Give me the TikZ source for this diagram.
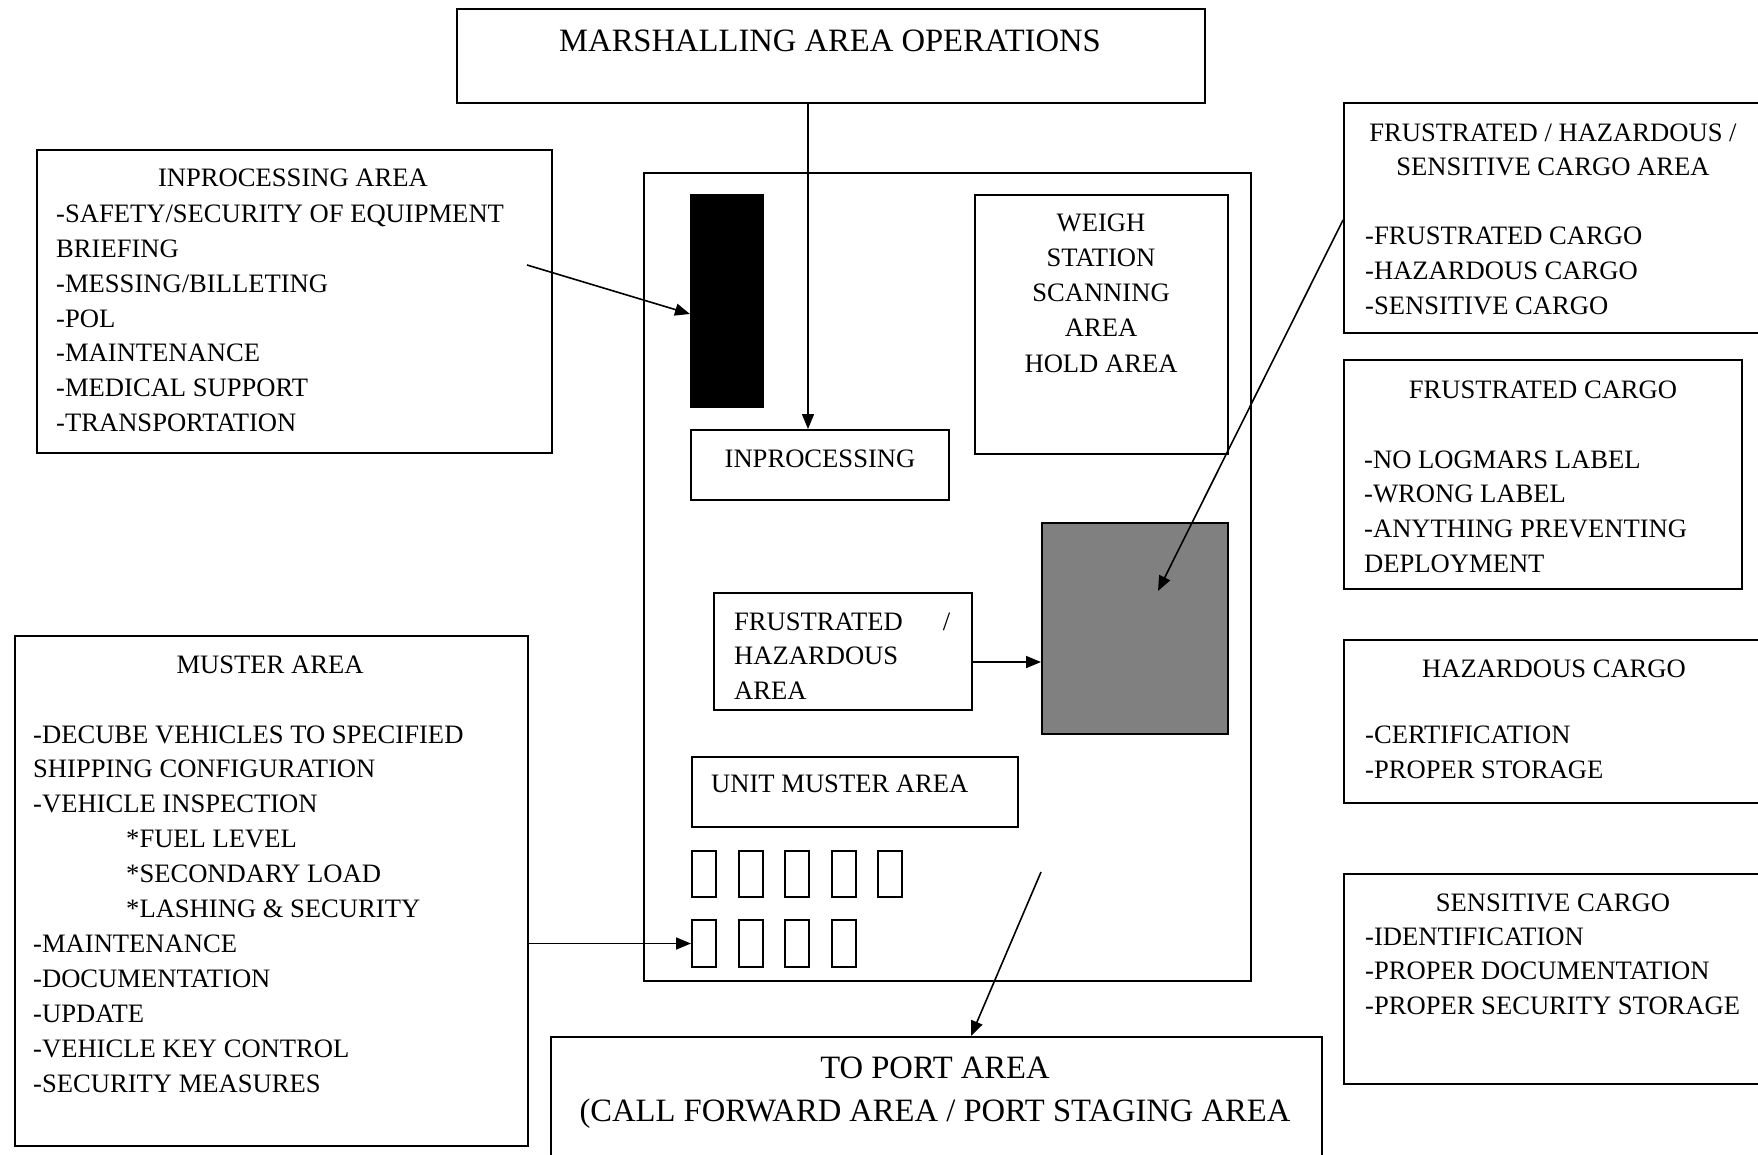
\documentclass[tikz,border=0pt]{standalone}
\usepackage{fontspec}
\setmainfont{Liberation Serif}
\usetikzlibrary{arrows.meta}
\begin{document}
\begin{tikzpicture}[x=1pt,y=-1pt,
  area/.style={draw, line width=2pt, inner sep=0pt, anchor=north west},
  body/.style={font=\fontsize{26.6}{32}\selectfont, inner sep=0pt},
  big/.style={font=\fontsize{32.6}{40}\selectfont, inner sep=0pt},
  arr/.style={line width=1.6pt, -{Triangle[length=15pt,width=12pt]}},
]
\useasboundingbox (0,0) rectangle (1758,1155);
\clip (0,0) rectangle (1758,1155);

% ---- boxes ----
\node[area, minimum width=748pt, minimum height=94pt] (title) at (456,8) {};
\node[area, minimum width=515pt, minimum height=303pt] (ipa) at (36,149) {};
\node[area, minimum width=607pt, minimum height=808pt] (yard) at (643,172) {};
\node[area, fill=black, minimum width=72pt, minimum height=212pt] (block) at (690,194) {};
\node[area, minimum width=258pt, minimum height=70pt] (ipbox) at (690,429) {};
\node[area, minimum width=253pt, minimum height=259pt] (weigh) at (974,194) {};
\node[area, fill={rgb,255:red,128;green,128;blue,128}, minimum width=186pt, minimum height=211pt] (holdpad) at (1041,522) {};
\node[area, minimum width=258pt, minimum height=117pt] (fhbox) at (713,592) {};
\node[area, minimum width=326pt, minimum height=70pt] (umbox) at (691,756) {};
\foreach \i in {1,...,5}
  \node[area, minimum width=24pt, minimum height=46pt] (sa\i) at ({691+46.5*(\i-1)},850) {};
\foreach \i in {1,...,4}
  \node[area, minimum width=24pt, minimum height=47pt] (sb\i) at ({691+46.5*(\i-1)},919) {};
\node[area, minimum width=513pt, minimum height=510pt] (muster) at (14,635) {};
\node[area, minimum width=771pt, minimum height=160pt] (port) at (550,1036) {};
\node[area, minimum width=421pt, minimum height=230pt] (fhs) at (1343,102) {};
\node[area, minimum width=398pt, minimum height=229pt] (fcargo) at (1343,359) {};
\node[area, minimum width=421pt, minimum height=163pt] (hcargo) at (1343,639) {};
\node[area, minimum width=421pt, minimum height=210pt] (scargo) at (1343,873) {};

% ---- texts ----
\node[big, anchor=base] (title-t) at (830,52) {MARSHALLING AREA OPERATIONS};

\node[body, anchor=base] (ipa-h) at (293,187) {INPROCESSING AREA};
\foreach \t [count=\i] in {-SAFETY/SECURITY OF EQUIPMENT, BRIEFING, -MESSING/BILLETING,
    -POL, -MAINTENANCE, -MEDICAL SUPPORT, -TRANSPORTATION}
  \node[body, anchor=base west] (ipa-l\i) at (56,{223+34.7*(\i-1)}) {\t};

\foreach \t [count=\i] in {WEIGH, STATION, SCANNING, AREA, HOLD AREA}
  \node[body, anchor=base] (weigh-l\i) at (1101,{232+35*(\i-1)}) {\t};

\node[body, anchor=base] (ipbox-t) at (820,467) {INPROCESSING};

\node[body, anchor=base west] (fh-l1) at (734,630) {\hbox to 216pt{FRUSTRATED\hfill/}};
\node[body, anchor=base west] (fh-l2) at (734,664) {HAZARDOUS};
\node[body, anchor=base west] (fh-l3) at (734,699) {AREA};

\node[body, anchor=base west] (um-t) at (711,792) {UNIT MUSTER AREA};

\node[body, anchor=base] (muster-h) at (270,673) {MUSTER AREA};
\foreach \t [count=\i] in {-DECUBE VEHICLES TO SPECIFIED, SHIPPING CONFIGURATION,
    -VEHICLE INSPECTION, \hspace*{93pt}*FUEL LEVEL, \hspace*{93pt}*SECONDARY LOAD,
    \hspace*{93pt}*LASHING \& SECURITY, -MAINTENANCE, -DOCUMENTATION, -UPDATE,
    -VEHICLE KEY CONTROL, -SECURITY MEASURES}
  \node[body, anchor=base west] (muster-l\i) at (33,{743+34.9*(\i-1)}) {\t};

\node[big, anchor=base] (port-l1) at (935,1078) {TO PORT AREA};
\node[big, anchor=base] (port-l2) at (935,1121) {(CALL FORWARD AREA / PORT STAGING AREA};

\node[body, anchor=base] (fhs-h1) at (1553,142) {FRUSTRATED / HAZARDOUS /};
\node[body, anchor=base] (fhs-h2) at (1553,176) {SENSITIVE CARGO AREA};
\foreach \t [count=\i] in {-FRUSTRATED CARGO, -HAZARDOUS CARGO, -SENSITIVE CARGO}
  \node[body, anchor=base west] (fhs-l\i) at (1365,{245+35*(\i-1)}) {\t};

\node[body, anchor=base] (fc-h) at (1543,398) {FRUSTRATED CARGO};
\foreach \t [count=\i] in {-NO LOGMARS LABEL, -WRONG LABEL, -ANYTHING PREVENTING, DEPLOYMENT}
  \node[body, anchor=base west] (fc-l\i) at (1364,{468+34.7*(\i-1)}) {\t};

\node[body, anchor=base] (hc-h) at (1554,677) {HAZARDOUS CARGO};
\foreach \t [count=\i] in {-CERTIFICATION, -PROPER STORAGE}
  \node[body, anchor=base west] (hc-l\i) at (1365,{743+35*(\i-1)}) {\t};

\node[body, anchor=base] (sc-h) at (1553,911) {SENSITIVE CARGO};
\foreach \t [count=\i] in {-IDENTIFICATION, -PROPER DOCUMENTATION, -PROPER SECURITY STORAGE}
  \node[body, anchor=base west] (sc-l\i) at (1365,{945+34.5*(\i-1)}) {\t};

% ---- connectors ----
\coordinate (downX) at (808,0);
\draw[arr] (downX |- title.south) -- (downX |- ipbox.north);

\coordinate (ipaFrom) at (527,265);
\coordinate (ipaTo) at (689,314);
\draw[arr] (ipaFrom) -- (block.west |- ipaTo);

\coordinate (fhsFrom) at (1343,220);
\coordinate (padTip) at (1158,591);
\draw[arr] (fhsFrom) -- (padTip);

\coordinate (fhY) at (0,662);
\draw[arr] (fhbox.east |- fhY) -- (holdpad.west |- fhY);

\draw[arr] (muster.east |- sb1.west) -- (sb1.west);

\coordinate (portFrom) at (1041,872);
\coordinate (portTip) at (971,0);
\draw[arr] (portFrom) -- (portTip |- port.north);
\end{tikzpicture}
\end{document}
